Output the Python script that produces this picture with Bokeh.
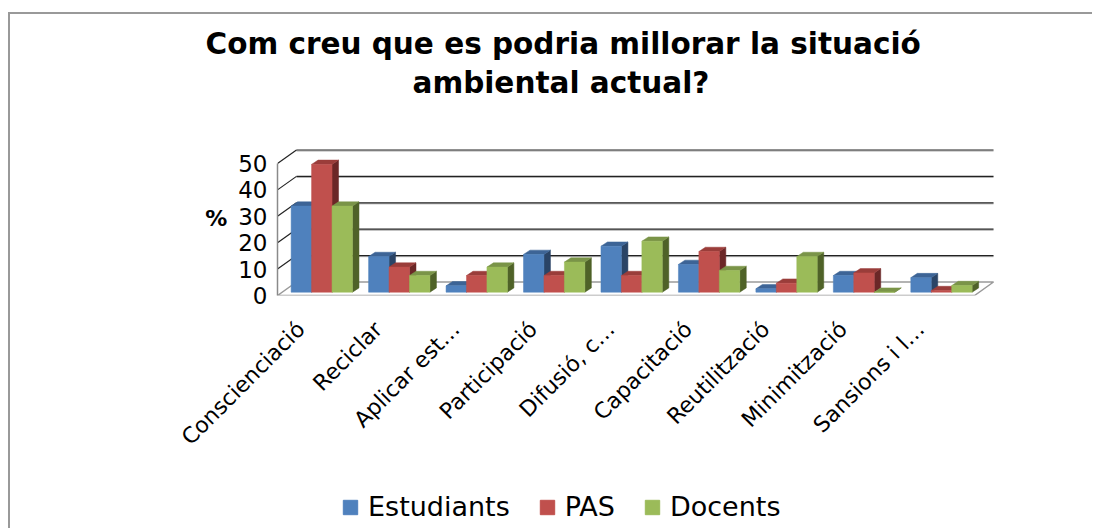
import math
from bokeh.plotting import figure
from bokeh.layouts import column
from bokeh.models import Range1d, FixedTicker, Legend, LegendItem, Title, ColumnDataSource
from bokeh.embed import file_html
from bokeh.resources import INLINE

# ---------------- data ----------------
categories = ["Conscienciació", "Reciclar", "Aplicar est…", "Participació", "Difusió, c…",
              "Capacitació", "Reutilització", "Minimització", "Sansions i l…"]
series_names = ["Estudiants", "PAS", "Docents"]
estudiants = [32.6, 13.5, 2.4, 14.3, 17.4, 10.5, 1.3, 6.3, 5.5]
pas = [48.4, 9.5, 6.3, 6.3, 6.3, 15.4, 3.4, 7.3, 0.6]
docents = [32.6, 6.3, 9.5, 11.4, 19.3, 8.2, 13.5, 0.0, 2.5]
y_ticks = [0, 10, 20, 30, 40, 50]
title_line1 = "Com creu que es podria millorar la situació"
title_line2 = "ambiental actual?"

# ---------------- style ----------------
front_colors = ["#4F81BD", "#C0504D", "#9BBB59"]
top_colors = ["#3D6496", "#9A3D3A", "#7A9448"]
side_colors = ["#2A4466", "#6B2727", "#4F6228"]
FONT = "DejaVu Sans"

X0, X1 = -0.572, 8.762
Y0, Y1 = 0, 58.7
wall_dx, wall_dy = 0.245, 5.11       # back-wall offset (3D depth)
bar_w = 0.264
bar_base = 1.25
bar_dx, bar_dy = 0.084, 1.63        # bar depth offset
floor_right = 8.427

p = figure(width=1084, height=451, output_backend="svg", toolbar_location=None,
           x_range=Range1d(X0, X1), y_range=Range1d(Y0, Y1),
           min_border_left=267, min_border_right=94, min_border_top=126, min_border_bottom=170)
p.styles = {"border-left": "2px solid #999999", "border-top": "2px solid #999999"}
p.outline_line_color = None
p.xgrid.visible = False
p.ygrid.visible = False
p.background_fill_color = "white"
p.border_fill_color = "white"

# ---------------- 3D frame ----------------
floor = ColumnDataSource(dict(
    xs=[[X0, floor_right, floor_right + wall_dx, X0 + wall_dx]],
    ys=[[0, 0, wall_dy, wall_dy]]))
p.patches("xs", "ys", source=floor, fill_color="white", line_color="#9a9a9a", line_width=1.5)

grid_ticks = y_ticks[1:]
p.segment(x0=[X0 + wall_dx] * len(grid_ticks), y0=[t + wall_dy - 0.4 for t in grid_ticks],
          x1=[floor_right + wall_dx] * len(grid_ticks), y1=[t + wall_dy - 0.4 for t in grid_ticks],
          line_color="#b0b0b0", line_width=1)
p.segment(x0=[X0 + wall_dx] * len(grid_ticks), y0=[t + wall_dy for t in grid_ticks],
          x1=[floor_right + wall_dx] * len(grid_ticks), y1=[t + wall_dy for t in grid_ticks],
          line_color="#222222", line_width=1.2)
p.segment(x0=[X0] * len(grid_ticks), y0=grid_ticks,
          x1=[X0 + wall_dx] * len(grid_ticks), y1=[t + wall_dy for t in grid_ticks],
          line_color="#222222", line_width=1.2)

# ---------------- bars ----------------
bar_geom = []
for s, vals in enumerate([estudiants, pas, docents]):
    centers = [i + (s - 1) * bar_w for i in range(len(categories))]
    lefts = [c - bar_w / 2 for c in centers]
    rights = [c + bar_w / 2 for c in centers]
    tops = [bar_base + v for v in vals]
    bar_geom.append((lefts, rights, tops))
    side = ColumnDataSource(dict(
        xs=[[r, r + bar_dx, r + bar_dx, r] for r in rights],
        ys=[[bar_base, bar_base + bar_dy, t + bar_dy, t] for t in tops]))
    p.patches("xs", "ys", source=side, fill_color=side_colors[s], line_color=side_colors[s], line_width=0.5)
    top = ColumnDataSource(dict(
        xs=[[l, r, r + bar_dx, l + bar_dx] for l, r in zip(lefts, rights)],
        ys=[[t, t, t + bar_dy, t + bar_dy] for t in tops]))
    p.patches("xs", "ys", source=top, fill_color=top_colors[s], line_color=top_colors[s], line_width=0.5)
    p.quad(left=lefts, right=rights, bottom=[bar_base] * len(vals), top=tops,
           fill_color=front_colors[s], line_color=front_colors[s], line_width=0.5)

# ---------------- axes ----------------
yax = p.yaxis[0]
yax.ticker = FixedTicker(ticks=y_ticks)
yax.bounds = (0, 50)
yax.axis_line_color = "#8a8a8a"
yax.axis_line_width = 1.5
yax.major_tick_line_color = None
yax.minor_tick_line_color = None
yax.major_label_text_font = FONT
yax.major_label_text_font_size = "23px"
yax.major_label_text_color = "black"
yax.major_label_standoff = 4
yax.axis_label = "%"
yax.axis_label_orientation = "horizontal"
yax.axis_label_text_font = FONT
yax.axis_label_text_font_size = "22px"
yax.axis_label_text_font_style = "bold"
yax.axis_label_text_color = "black"
yax.axis_label_standoff = 8

tick_shift = -0.27
x_ticks = [i + tick_shift for i in range(len(categories))]
xax = p.xaxis[0]
xax.ticker = FixedTicker(ticks=x_ticks)
xax.major_label_overrides = {t: c for t, c in zip(x_ticks, categories)}
xax.major_label_orientation = math.pi / 4
xax.axis_line_color = None
xax.major_tick_line_color = None
xax.minor_tick_line_color = None
xax.major_label_text_font = FONT
xax.major_label_text_font_size = "22px"
xax.major_label_text_color = "black"
xax.major_label_standoff = 24

# ---------------- titles ----------------
spacer = Title(text=" ", text_font_size="10px", standoff=27)
p.add_layout(spacer, "above")
t2 = Title(text=title_line2, align="left", offset=135, text_font=FONT, text_font_size="29.5px",
           text_font_style="bold", text_color="black", standoff=2)
p.add_layout(t2, "above")
t1 = Title(text=title_line1, align="left", offset=-72, text_font=FONT, text_font_size="29.5px",
           text_font_style="bold", text_color="black", standoff=3)
p.add_layout(t1, "above")

# ---------------- legend (separate strip below the chart) ----------------
lf = figure(width=1084, height=65, output_backend="svg", toolbar_location=None,
            x_range=Range1d(X0, X1), y_range=Range1d(Y0, Y1),
            x_axis_location=None, y_axis_location=None,
            min_border_left=0, min_border_right=0, min_border_top=0, min_border_bottom=0)
lf.styles = {"border-left": "2px solid #999999"}
lf.outline_line_color = None
lf.xgrid.visible = False
lf.ygrid.visible = False
legend_items = []
for s, name in enumerate(series_names):
    lefts, rights, tops = bar_geom[s]
    r = lf.quad(left=lefts, right=rights, bottom=[bar_base] * len(tops), top=tops,
                fill_color=front_colors[s], line_color=front_colors[s], visible=False)
    legend_items.append(LegendItem(label=name, renderers=[r]))
legend = Legend(items=legend_items, location=(64, 6), orientation="horizontal",
                label_text_font=FONT, label_text_font_size="27px", label_text_color="black",
                glyph_width=18, glyph_height=18, label_height=30, label_standoff=9, spacing=28,
                padding=0, margin=0, border_line_color=None, background_fill_alpha=0,
                inactive_fill_alpha=0)
lf.add_layout(legend)

layout = column(p, lf, spacing=0)
layout.margin = (12, 0, 0, 8)

open("out.html", "w").write(file_html(layout, INLINE))
